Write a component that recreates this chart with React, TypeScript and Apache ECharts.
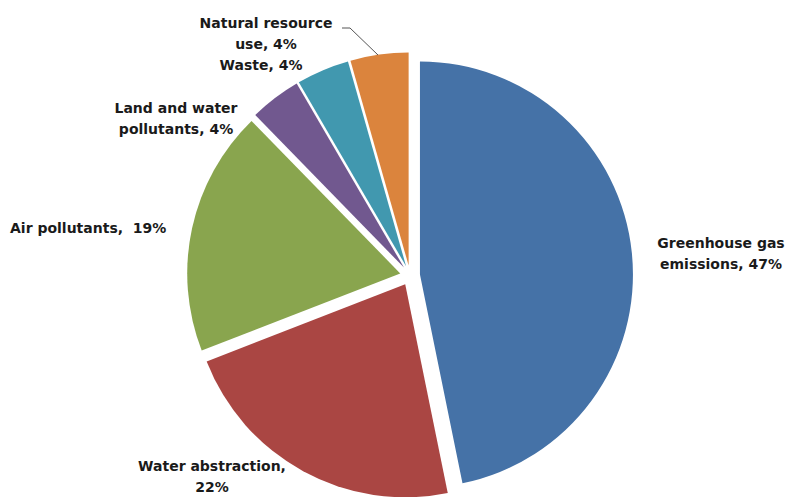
import React, { useEffect, useRef } from "react";
import * as echarts from "echarts";

const categories = [
  "Greenhouse gas emissions",
  "Water abstraction",
  "Air pollutants",
  "Land and water pollutants",
  "Waste",
  "Natural resource use",
];
const shares = [46.8, 22.3, 18.6, 3.9, 4.0, 4.4];
const labelNames = [
  "Greenhouse gas\nemissions",
  "Water abstraction",
  "Air pollutants",
  "Land and water\npollutants",
  "Waste",
  "Natural resource\nuse",
];
const labelSeparators = [", ", ",\n", ",  ", ", ", ", ", ", "];
const colors = ["#4572A7", "#AA4643", "#89A54E", "#71588F", "#4198AF", "#DB843D"];

const labelPos: { x: number; y: number; align: string }[] = [
  { x: 721, y: 253, align: "center" },
  { x: 212, y: 476, align: "center" },
  { x: 10, y: 228, align: "left" },
  { x: 176, y: 118, align: "center" },
  { x: 261, y: 65, align: "center" },
  { x: 266, y: 33, align: "center" },
];

export default function App() {
  const ref = useRef<HTMLDivElement>(null);
  useEffect(() => {
    if (!ref.current) return;
    const chart = echarts.init(ref.current, undefined, { renderer: "svg" });
    const labelGraphics: any[] = categories.map((_, i) => ({
      type: "text",
      x: labelPos[i].x,
      y: labelPos[i].y,
      z: 10,
      style: {
        text: `${labelNames[i]}${labelSeparators[i]}${Math.round(shares[i])}%`,
        fontFamily: "DejaVu Sans, Verdana, sans-serif",
        fontWeight: "bold",
        fontSize: 14,
        lineHeight: 21,
        fill: "#1a1a1a",
        align: labelPos[i].align,
        verticalAlign: "middle",
      },
    }));
    labelGraphics.push({
      type: "polyline",
      z: 10,
      shape: {
        points: [
          [342, 28],
          [350, 28],
          [378, 55],
        ],
      },
      style: { stroke: "#555555", lineWidth: 1, fill: "none" },
    });
    chart.setOption({
      animation: false,
      backgroundColor: "#ffffff",
      graphic: labelGraphics,
      series: [
        {
          type: "pie",
          center: [410, 275.5],
          radius: [0, 213],
          startAngle: 90,
          clockwise: true,
          selectedMode: "multiple",
          selectedOffset: 10,
          emphasis: { disabled: true, scale: false },
          itemStyle: { borderWidth: 0 },
          label: { show: false },
          labelLine: { show: false },
          data: categories.map((name, i) => ({
            name,
            value: shares[i],
            selected: true,
            itemStyle: { color: colors[i] },
          })),
        },
      ],
    });
    return () => chart.dispose();
  }, []);
  return (
    <div
      ref={ref}
      style={{ position: "fixed", left: 0, top: 0, width: 790, height: 497 }}
    />
  );
}
